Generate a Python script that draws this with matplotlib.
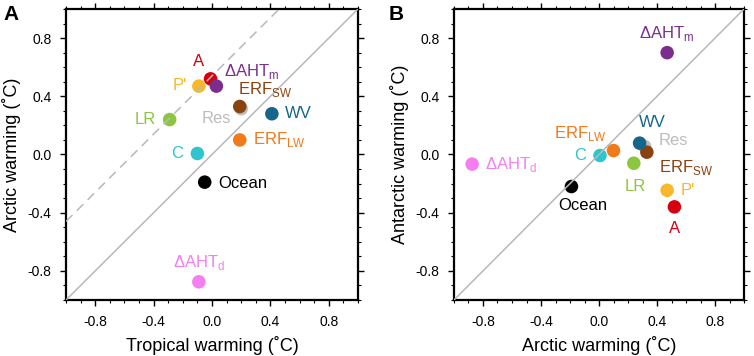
import numpy as np
import matplotlib
matplotlib.use('Agg')
import matplotlib.pyplot as plt
from matplotlib.ticker import MultipleLocator, FormatStrFormatter

plt.rcParams['font.family'] = 'Liberation Sans'
plt.rcParams['mathtext.fontset'] = 'custom'
plt.rcParams['mathtext.rm'] = 'Liberation Sans'
plt.rcParams['axes.unicode_minus'] = False

# terms (Res first so it sits underneath the others)
names = ['Res', 'A', "P'", 'mAHT', 'ERFsw', 'WV', 'LR', 'ERFlw', 'C', 'Ocean', 'dAHT']
labels = ['Res', 'A', "P'", r'$\Delta$AHT$_\mathrm{m}$', r'ERF$_\mathrm{SW}$', 'WV', 'LR',
          r'ERF$_\mathrm{LW}$', 'C', 'Ocean', r'$\Delta$AHT$_\mathrm{d}$']
tropical = [0.20, -0.01, -0.09, 0.03, 0.19, 0.41, -0.29, 0.19, -0.10, -0.05, -0.09]
arctic = [0.315, 0.52, 0.47, 0.47, 0.33, 0.28, 0.24, 0.10, 0.007, -0.19, -0.875]
antarctic = [0.055, -0.36, -0.246, 0.70, 0.016, 0.078, -0.06, 0.027, -0.007, -0.22, -0.066]
colors = ['#bdbdbd', '#d7000f', '#f7b82c', '#7a2f8f', '#8a420f', '#15668a', '#8cc63f',
          '#f07a1c', '#2ec5cf', '#000000', '#f57ff0']

# label placement: (dx, dy in pixels, horizontal alignment)
offA = {'Res': (-10, -10, 'right'), 'A': (-12, 17, 'center'), "P'": (-12, 1, 'right'),
        'mAHT': (8, 15, 'left'), 'ERFsw': (-2, 17, 'left'), 'WV': (13, 0, 'left'),
        'LR': (-14, 0, 'right'), 'ERFlw': (13, 0, 'left'), 'C': (-14, 0, 'right'),
        'Ocean': (14, -1, 'left'), 'dAHT': (0, 19, 'center')}
offB = {'Res': (14, 6, 'left'), 'A': (0, -22, 'center'), "P'": (13, 0, 'left'),
        'mAHT': (0, 19, 'center'), 'ERFsw': (12, -15, 'left'), 'WV': (13, 21, 'center'),
        'LR': (1, -23, 'center'), 'ERFlw': (-7, 17, 'right'), 'C': (-14, 0, 'right'),
        'Ocean': (11, -19, 'center'), 'dAHT': (13, 0, 'left')}

fig = plt.figure(figsize=(7.54, 3.56), dpi=100)
axA = fig.add_axes([66/754, 56/356, 292/754, 291/356])
axB = fig.add_axes([454/754, 56/356, 290/754, 291/356])


def style(ax):
    ax.set_xlim(-1, 1)
    ax.set_ylim(-1, 1)
    for sp in ax.spines.values():
        sp.set_linewidth(1.6)
    ax.xaxis.set_major_locator(MultipleLocator(0.4))
    ax.yaxis.set_major_locator(MultipleLocator(0.4))
    ax.xaxis.set_minor_locator(MultipleLocator(0.1))
    ax.yaxis.set_minor_locator(MultipleLocator(0.1))
    ax.xaxis.set_major_formatter(FormatStrFormatter('%.1f'))
    ax.yaxis.set_major_formatter(FormatStrFormatter('%.1f'))
    ax.tick_params(which='both', direction='out', top=True, right=True, labelsize=10)
    ax.tick_params(which='major', length=4.5, width=1, pad=6)
    ax.tick_params(which='minor', length=2.2, width=0.8)


def scatter(ax, xs, ys, offs):
    for i, n in enumerate(names):
        ax.scatter(xs[i], ys[i], s=95, color=colors[i], edgecolors='none', zorder=2)
        dx, dy, ha = offs[n]
        ax.annotate(labels[i], (xs[i], ys[i]), xytext=(dx, dy), textcoords='offset pixels',
                    ha=ha, va='center', color=colors[i], fontsize=12, zorder=4)


# panel A
style(axA)
scatter(axA, tropical, arctic, offA)
axA.plot([-1, 1], [-1, 1], color='#b8b8b8', lw=1.1, zorder=3)
axA.plot([-1, 0.46], [-0.46, 1], color='#b8b8b8', lw=1.1, ls=(0, (6, 4)), zorder=3)
axA.set_xlabel('Tropical warming (˚C)', fontsize=13, labelpad=5)
axA.set_ylabel('Arctic warming (˚C)', fontsize=13, labelpad=5)
fig.text(3/754, 1 - 5/356, 'A', fontsize=15, fontweight='bold', va='top')

# panel B
style(axB)
scatter(axB, arctic, antarctic, offB)
axB.plot([-1, 1], [-1, 1], color='#b8b8b8', lw=1.1, zorder=3)
axB.set_xlabel('Arctic warming (˚C)', fontsize=13, labelpad=5)
axB.set_ylabel('Antarctic warming (˚C)', fontsize=13, labelpad=5)
fig.text(389/754, 1 - 5/356, 'B', fontsize=15, fontweight='bold', va='top')

fig.savefig('out.png', dpi=100)
